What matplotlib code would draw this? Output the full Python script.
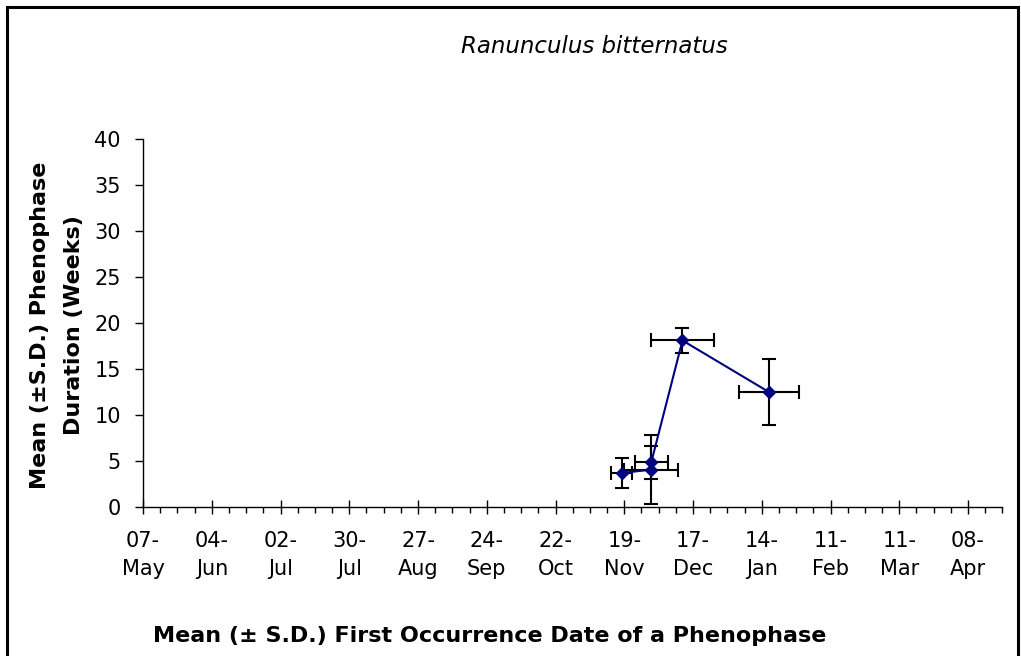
import numpy as np
import matplotlib
matplotlib.use("Agg")
import matplotlib.pyplot as plt
from matplotlib.patches import Rectangle
from matplotlib.ticker import MultipleLocator

# days counted from 07-May (first tick on the date axis)
x_days = [195, 207, 207, 219.7, 254.9]
y_weeks = [3.7, 4.06, 4.86, 18.1, 12.5]
x_sd = [4.3, 11.0, 6.7, 12.7, 12.3]
y_sd = [1.6, 3.77, 1.81, 1.4, 3.6]

tick_days = list(range(0, 337, 28))
tick_labels = ["07-\nMay", "04-\nJun", "02-\nJul", "30-\nJul", "27-\nAug", "24-\nSep",
               "22-\nOct", "19-\nNov", "17-\nDec", "14-\nJan", "11-\nFeb", "11-\nMar",
               "08-\nApr"]
y_ticks = [0, 5, 10, 15, 20, 25, 30, 35, 40]

plt.rcParams['font.family'] = ['DejaVu Sans']

W, H = 1021, 656
fig = plt.figure(figsize=(W / 100, H / 100), dpi=100)

left, right, bottom, top = 143, 1002.4, 507, 139
ax = fig.add_axes([left / W, 1 - bottom / H, (right - left) / W, (bottom - top) / H])

ax.errorbar(x_days, y_weeks, xerr=x_sd, yerr=y_sd, fmt='none', ecolor='black',
            elinewidth=1.5, capsize=5, capthick=1.5, zorder=2)
ax.plot(x_days, y_weeks, color='#000080', lw=1.5, marker='D', ms=6.3,
        markerfacecolor='#000080', markeredgecolor='#000080', zorder=3)

ax.set_xlim(0, 350)
ax.set_ylim(0, 40)
ax.set_xticks(tick_days)
ax.set_xticklabels(tick_labels, fontsize=15, linespacing=1.45)
ax.xaxis.set_minor_locator(MultipleLocator(7))
ax.set_yticks(y_ticks)
ax.set_yticklabels([str(v) for v in y_ticks], fontsize=15)

ax.tick_params(axis='x', which='major', direction='inout', length=10, width=1, pad=12.5)
ax.tick_params(axis='x', which='minor', direction='out', length=4, width=1)
ax.tick_params(axis='y', which='major', direction='out', length=6, width=1, pad=10)

for s in ['top', 'right']:
    ax.spines[s].set_visible(False)
for s in ['left', 'bottom']:
    ax.spines[s].set_linewidth(1)

fig.text(594.5 / W, 1 - 53 / H, "Ranunculus bitternatus", style='italic',
         fontsize=16.5, ha='center', va='baseline')
fig.text(490 / W, 1 - 642 / H, "Mean (\u00b1 S.D.) First Occurrence Date of a Phenophase",
         fontsize=16, fontweight='bold', ha='center', va='baseline')
fig.text(57 / W, 1 - 325 / H, "Mean (\u00b1S.D.) Phenophase\nDuration (Weeks)",
         fontsize=16, fontweight='bold', rotation=90, ha='center', va='center',
         linespacing=1.85)

fig.patches.append(Rectangle((7 / W, -0.05), 1011 / W, 1.05 - 7 / H, fill=False,
                             edgecolor='black', lw=2.2, transform=fig.transFigure))

fig.savefig("out.png", dpi=100)
